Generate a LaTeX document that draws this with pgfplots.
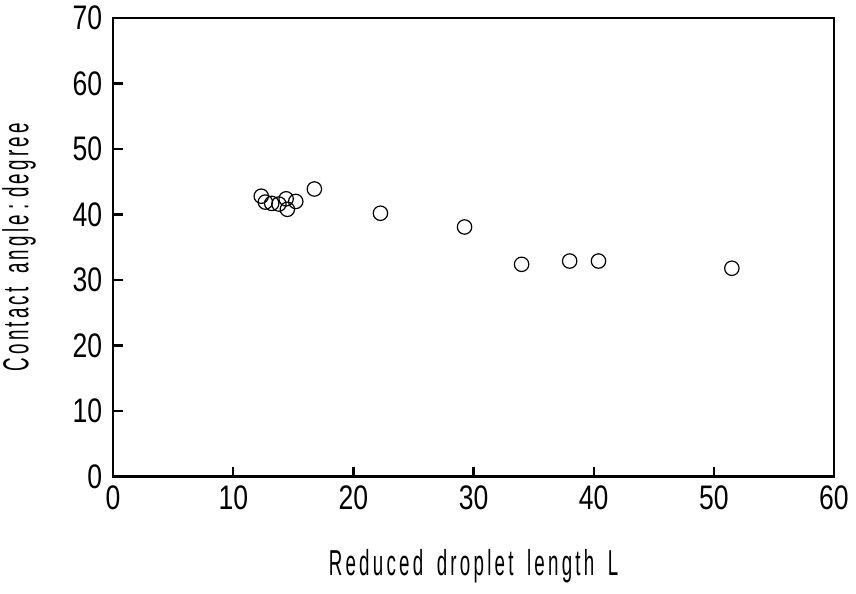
\documentclass[border=0pt]{standalone}
\usepackage{fontspec}
\setmainfont{Liberation Sans}
\newfontfamily\narrowfont{Liberation Sans}[FakeStretch=0.52, LetterSpace=9, WordSpace=1.6]
\newfontfamily\tickfont{Liberation Sans}[FakeStretch=0.78]
\usepackage{pgfplots}
\pgfplotsset{compat=1.18}
\begin{document}
\begin{tikzpicture}
\path[use as bounding box] (-56.5pt,-58.5pt) rectangle (371pt,238pt);
\begin{axis}[
  scale only axis,
  width=360pt, height=229pt,
  xmin=0, xmax=60, ymin=0, ymax=70,
  xtick={0,10,...,60}, ytick={0,10,...,70},
  xtick pos=left, ytick pos=left,
  tick align=inside,
  major tick length=5pt,
  axis line style={line width=1.1pt},
  every tick/.style={line width=1.1pt, black},
  /pgf/number format/assume math mode=true,
  ticklabel style={font=\tickfont\fontsize{17}{17}\selectfont},
  yticklabel style={xshift=-2pt},
  xticklabel style={yshift=-1pt},
  xlabel={\narrowfont\fontsize{18}{18}\selectfont Reduced droplet length L},
  ylabel={\narrowfont\fontsize{18}{18}\selectfont Contact angle\,:\,degree},
  xlabel style={at={(axis description cs:0.5,0)}, anchor=center, yshift=-45pt},
  ylabel style={at={(axis description cs:0,0.5)}, anchor=center, rotate=0, yshift=47pt},
]
\addplot[only marks, mark=o, mark size=3.6pt, mark options={line width=0.6pt, fill=white}, black] coordinates {
(12.33,42.8) (12.67,41.9) (13.2,41.7) (13.8,41.6) (14.5,40.8) (14.4,42.4) (15.2,42.0)
(16.75,43.9) (22.25,40.2) (29.25,38.1) (34.0,32.4) (38.0,32.9) (40.4,32.9) (51.5,31.8)
};
\end{axis}
\end{tikzpicture}
\end{document}
